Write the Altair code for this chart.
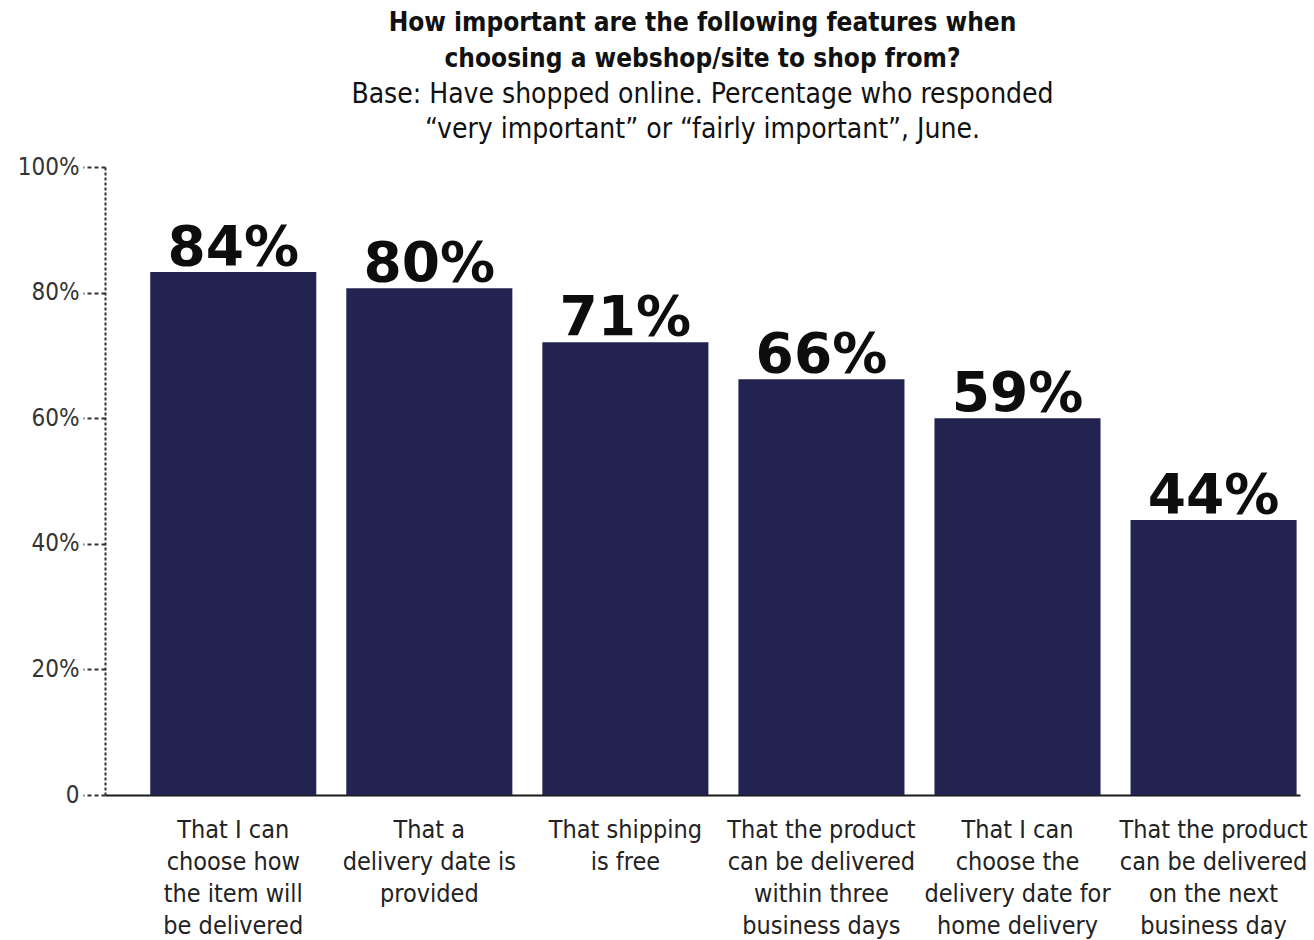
import altair as alt
import pandas as pd

categories = [
    "That I can|choose how|the item will|be delivered",
    "That a|delivery date is|provided",
    "That shipping|is free",
    "That the product|can be delivered|within three|business days",
    "That I can|choose the|delivery date for|home delivery",
    "That the product|can be delivered|on the next|business day",
]
# bar heights as drawn in the picture (percent)
bar_heights = [83.3, 80.7, 72.1, 66.2, 60.0, 43.8]
# printed value labels
value_labels = ["84%", "80%", "71%", "66%", "59%", "44%"]
y_ticks = [0, 20, 40, 60, 80, 100]

df = pd.DataFrame({"cat": categories, "val": bar_heights, "lab": value_labels})

FONT = "Liberation Sans Narrow, DejaVu Sans Condensed, sans-serif"
BAR = "#222350"

x_enc = alt.X(
    "cat:N",
    sort=categories,
    title=None,
    scale=alt.Scale(paddingInner=0.153, paddingOuter=0.124, align=0.93),
    axis=alt.Axis(
        labelAngle=0,
        labelExpr="split(datum.label, '|')",
        labelFontSize=25,
        labelLineHeight=32,
        labelFont=FONT,
        labelColor="#222",
        labelPadding=22,
        ticks=False,
        grid=False,
        domainColor="#1a1a1a",
        domainWidth=2,
        labelLimit=300,
    ),
)

y_enc = alt.Y(
    "val:Q",
    title=None,
    scale=alt.Scale(domain=[0, 100], nice=False),
    axis=alt.Axis(
        values=y_ticks,
        labelExpr="datum.value == 0 ? '0' : datum.value + '%'",
        labelFontSize=24,
        labelFont=FONT,
        labelColor="#333",
        labelPadding=4,
        tickSize=22,
        tickDash=[4, 3],
        tickWidth=2,
        tickColor="#333",
        domainDash=[3, 2],
        domainWidth=2,
        domainColor="#333",
        grid=False,
    ),
)

bars = alt.Chart(df).mark_bar(color=BAR).encode(x=x_enc, y=y_enc)

text = alt.Chart(df).mark_text(
    baseline="alphabetic", dy=-7, fontSize=55, fontWeight="bold",
    font="DejaVu Sans, Verdana, sans-serif", color="#0d0d0d"
).encode(
    x=alt.X("cat:N", sort=categories),
    y=alt.Y("val:Q"),
    text="lab:N",
)

chart = (
    alt.layer(bars, text)
    .properties(
        width=1195,
        height=628,
        autosize=alt.AutoSizeParams(type="none"),
        padding={"left": 105, "top": 167, "right": 14, "bottom": 145},
        view=alt.ViewBackground(strokeWidth=0, stroke="transparent"),
        title=alt.TitleParams(
            text=["How important are the following features when", "choosing a webshop/site to shop from?"],
            subtitle=["Base: Have shopped online. Percentage who responded", "\u201cvery important\u201d or \u201cfairly important\u201d, June."],
            anchor="middle",
            font=FONT,
            fontSize=26,
            fontWeight="bold",
            lineHeight=36,
            color="#111",
            subtitleFont=FONT,
            subtitleFontSize=28,
            subtitleLineHeight=35,
            subtitleColor="#111",
            subtitlePadding=9,
            offset=11,
        ),
    )
    .configure_view(strokeWidth=0, stroke="transparent")
    .configure_axis(grid=False)
    .configure(background="white")
)

chart.save("out.html", embed_options={"renderer": "svg", "actions": False})
